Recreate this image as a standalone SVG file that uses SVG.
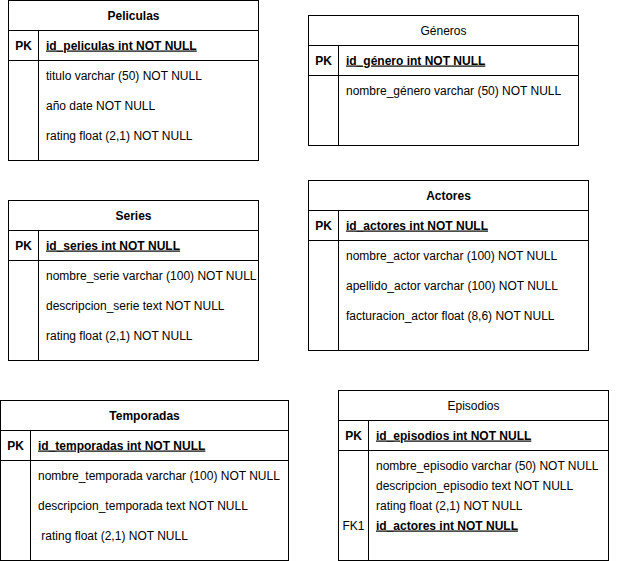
<svg xmlns="http://www.w3.org/2000/svg" width="634" height="561" viewBox="0 0 634 561">
<style>
text{font-family:"Liberation Sans",Arial,sans-serif;font-size:12px;fill:#000}
.t{font-weight:bold;text-anchor:middle}
.pk{font-weight:bold;text-decoration:underline}
.k{text-anchor:middle;font-weight:bold}
.n{font-weight:normal}
.b{fill:#fff;stroke:#000;stroke-width:1}
.l{stroke:#000;stroke-width:1;fill:none}
</style>
<rect width="634" height="561" fill="#fff"/>
<g id="peliculas">
<rect class="b" x="8.5" y="0.5" width="250" height="160"/>
<path class="l" d="M8.5 30.5H258.5M8.5 60.5H258.5M38.5 30.5V160.5"/>
<text class="t" x="133.5" y="19.5">Peliculas</text>
<text class="k" x="23.5" y="49.5">PK</text>
<text class="pk" x="46" y="49.5">id_peliculas int NOT NULL</text>
<text x="46" y="79.5">titulo varchar (50) NOT NULL</text>
<text x="46" y="109.5">año date NOT NULL</text>
<text x="46" y="139.5">rating float (2,1) NOT NULL</text>
</g>
<g id="generos">
<rect class="b" x="308.5" y="15.5" width="270" height="130"/>
<path class="l" d="M308.5 45.5H578.5M308.5 75.5H578.5M338.5 45.5V145.5"/>
<text class="t n" x="443.5" y="34.5">Géneros</text>
<text class="k" x="323.5" y="64.5">PK</text>
<text class="pk" x="346" y="64.5">id_género int NOT NULL</text>
<text x="346" y="94.5">nombre_género varchar (50) NOT NULL</text>
</g>
<g id="series">
<rect class="b" x="8.5" y="200.5" width="250" height="160"/>
<path class="l" d="M8.5 230.5H258.5M8.5 260.5H258.5M38.5 230.5V360.5"/>
<text class="t" x="133.5" y="219.5">Series</text>
<text class="k" x="23.5" y="249.5">PK</text>
<text class="pk" x="46" y="249.5">id_series int NOT NULL</text>
<text x="46" y="279.5">nombre_serie varchar (100) NOT NULL</text>
<text x="46" y="309.5">descripcion_serie text NOT NULL</text>
<text x="46" y="339.5">rating float (2,1) NOT NULL</text>
</g>
<g id="actores">
<rect class="b" x="308.5" y="180.5" width="280" height="170"/>
<path class="l" d="M308.5 210.5H588.5M308.5 240.5H588.5M338.5 210.5V350.5"/>
<text class="t" x="448.5" y="199.5">Actores</text>
<text class="k" x="323.5" y="229.5">PK</text>
<text class="pk" x="346" y="229.5">id_actores int NOT NULL</text>
<text x="346" y="259.5">nombre_actor varchar (100) NOT NULL</text>
<text x="346" y="289.5">apellido_actor varchar (100) NOT NULL</text>
<text x="346" y="319.5">facturacion_actor float (8,6) NOT NULL</text>
</g>
<g id="temporadas">
<rect class="b" x="0.5" y="400.5" width="288" height="160"/>
<path class="l" d="M0.5 430.5H288.5M0.5 460.5H288.5M30.5 430.5V560.5"/>
<text class="t" x="144.5" y="419.5">Temporadas</text>
<text class="k" x="15.5" y="449.5">PK</text>
<text class="pk" x="38" y="449.5">id_temporadas int NOT NULL</text>
<text x="38" y="479.5">nombre_temporada varchar (100) NOT NULL</text>
<text x="38" y="509.5">descripcion_temporada text NOT NULL</text>
<text x="38" y="539.5" xml:space="preserve"> rating float (2,1) NOT NULL</text>
</g>
<g id="episodios">
<rect class="b" x="338.5" y="390.5" width="270" height="170"/>
<path class="l" d="M338.5 420.5H608.5M338.5 450.5H608.5M368.5 420.5V560.5"/>
<text class="t n" x="473.5" y="409.5">Episodios</text>
<text class="k" x="353.5" y="439.5">PK</text>
<text class="pk" x="376" y="439.5">id_episodios int NOT NULL</text>
<text x="376" y="469.5">nombre_episodio varchar (50) NOT NULL</text>
<text x="376" y="489.5">descripcion_episodio text NOT NULL</text>
<text x="376" y="509.5">rating float (2,1) NOT NULL</text>
<text class="k n" x="353.5" y="529.5">FK1</text>
<text class="pk" x="376" y="529.5">id_actores int NOT NULL</text>
</g>
<g id="connectors"></g>
</svg>
